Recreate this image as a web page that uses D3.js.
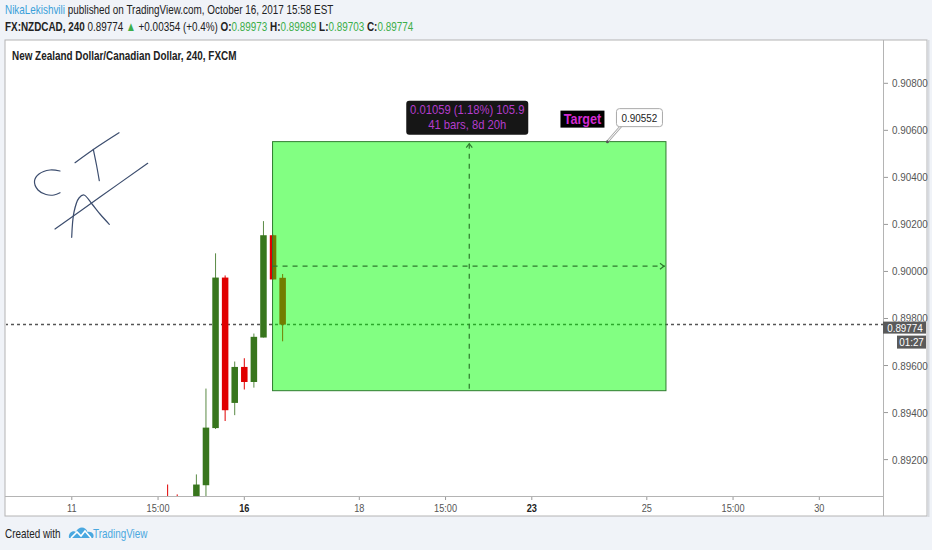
<!DOCTYPE html>
<html>
<head>
<meta charset="utf-8">
<script src="https://cdn.jsdelivr.net/npm/d3@7"></script>
<style>
  html, body { margin: 0; padding: 0; background: #f0f3f8; }
  svg { display: block; }
  text { font-family: "Liberation Sans", Arial, sans-serif; }
</style>
</head>
<body>
<svg id="chart" width="932" height="550"></svg>
<script>
// 4-hour NZD/CAD candles, indexed by bar (0 = first bar of the 16th)
const barIndex = [-8, -7, -5, -4, -3, -2, -1, 0, 1, 2, 3, 4];
const opens  = [0.89040, 0.89030, 0.89020, 0.89091, 0.89334, 0.89974, 0.89441, 0.89594, 0.89530, 0.89719, 0.90154, 0.89973];
const highs  = [0.89094, 0.89052, 0.89137, 0.89502, 0.90077, 0.89983, 0.89617, 0.89631, 0.89736, 0.90214, 0.90156, 0.89989];
const lows   = [0.88980, 0.88990, 0.88990, 0.89040, 0.89330, 0.89364, 0.89389, 0.89498, 0.89506, 0.89719, 0.89966, 0.89703];
const closes = [0.88990, 0.89020, 0.89094, 0.89336, 0.89974, 0.89410, 0.89594, 0.89530, 0.89722, 0.90154, 0.89966, 0.89774];

// price axis ticks
const priceTicks = [0.908, 0.906, 0.904, 0.902, 0.900, 0.898, 0.896, 0.894, 0.892];

// time axis ticks (bar positions and labels)
const timeTickBars = [-18, -9, 0, 12, 21, 30, 42, 51, 60];
const timeTickLabels = ["11", "15:00", "16", "18", "15:00", "23", "25", "15:00", "30"];
const timeTickBold = [false, false, true, false, false, true, false, false, false];

// long position / price range projection
const projStartBar = 3, projEndBar = 44;
const projTop = 0.90552, projBottom = 0.89493;
const lastPrice = 0.89774;
const rangeLine1 = "0.01059 (1.18%) 105.9";
const rangeLine2 = "41 bars, 8d 20h";
const targetBar = 38;

const svg = d3.select("#chart");

// narrow-looking text: a horizontally squeezed group anchored at (x, y)
function squeezed(parent, x, y, sx) {
  return parent.append("g").attr("transform", `translate(${x},${y}) scale(${sx},1)`)
    .append("text").attr("x", 0).attr("y", 0);
}

// frame geometry
const frame = { left: 5, top: 40, right: 927, bottom: 516 };
const plot = { left: 5, top: 40, right: 883, bottom: 496 };

const x = d3.scaleLinear().domain([0, 12]).range([244.3, 359.3]);
const y = d3.scaleLinear().domain([0.892, 0.908]).range([459.6, 83.3]);
const barStep = x(1) - x(0);

const UP = "#38761d", DOWN = "#e00000";
const HS = 0.74;   // header squeeze
const AS = 0.86;   // axis label squeeze

// header
const h1 = squeezed(svg, 5, 14, HS).attr("font-size", 13.4).attr("fill", "#222");
h1.append("tspan").attr("fill", "#3a9fd9").text("NikaLekishvili");
h1.append("tspan").text(" published on TradingView.com, October 16, 2017 15:58 EST");

const h2 = squeezed(svg, 5, 31, HS).attr("font-size", 13.4).attr("fill", "#222");
h2.append("tspan").attr("font-weight", "bold").text("FX:NZDCAD, 240");
h2.append("tspan").text("  0.89774 ");
h2.append("tspan").attr("fill", "#3cae4a").text("\u25B2");
h2.append("tspan").text(" +0.00354 (+0.4%) ");
const ohlc = [["O:", "0.89973"], ["H:", "0.89989"], ["L:", "0.89703"], ["C:", "0.89774"]];
ohlc.forEach(([k, v], i) => {
  h2.append("tspan").attr("font-weight", "bold").text((i ? " " : "") + k);
  h2.append("tspan").attr("fill", "#3cae4a").text(v);
});

// chart frame
svg.append("rect").attr("x", frame.left).attr("y", frame.top)
  .attr("width", frame.right - frame.left).attr("height", frame.bottom - frame.top)
  .attr("fill", "#fff").attr("stroke", "#b4b4b4").attr("stroke-width", 1);
svg.append("line").attr("x1", frame.right + 1.5).attr("x2", frame.right + 1.5)
  .attr("y1", frame.top).attr("y2", frame.bottom + 1).attr("stroke", "#d8dbe0").attr("stroke-width", 2);
svg.append("line").attr("x1", plot.right + 0.5).attr("x2", plot.right + 0.5)
  .attr("y1", frame.top).attr("y2", frame.bottom).attr("stroke", "#b4b4b4");
svg.append("line").attr("x1", frame.left).attr("x2", plot.right)
  .attr("y1", plot.bottom + 0.5).attr("y2", plot.bottom + 0.5).attr("stroke", "#b4b4b4");

const defs = svg.append("defs");
defs.append("clipPath").attr("id", "plotClip")
  .append("rect").attr("x", plot.left + 1).attr("y", plot.top + 1)
  .attr("width", plot.right - plot.left - 1).attr("height", plot.bottom - plot.top - 1);

// symbol title
squeezed(svg, 12, 60, HS).attr("font-size", 13.4)
  .attr("font-weight", "bold").attr("fill", "#222")
  .text("New Zealand Dollar/Canadian Dollar, 240, FXCM");

const g = svg.append("g").attr("clip-path", "url(#plotClip)");

// last price line
g.append("line").attr("x1", plot.left).attr("x2", plot.right)
  .attr("y1", y(lastPrice)).attr("y2", y(lastPrice))
  .attr("stroke", "#555").attr("stroke-width", 1.5).attr("stroke-dasharray", "3,3");

// candles
const candles = barIndex.map((b, i) => ({ b, o: opens[i], h: highs[i], l: lows[i], c: closes[i] }));
const cg = g.selectAll("g.candle").data(candles).join("g").attr("class", "candle");
cg.append("line")
  .attr("x1", d => x(d.b)).attr("x2", d => x(d.b))
  .attr("y1", d => y(d.h)).attr("y2", d => y(d.l))
  .attr("stroke", d => d.c >= d.o ? "#5a8a45" : DOWN).attr("stroke-width", 1);
const bodyW = barStep * 0.68;
cg.append("rect")
  .attr("x", d => x(d.b) - bodyW / 2).attr("width", bodyW)
  .attr("y", d => y(Math.max(d.o, d.c)))
  .attr("height", d => Math.max(1, Math.abs(y(d.o) - y(d.c))))
  .attr("fill", d => d.c >= d.o ? UP : DOWN);

// projection box
const bx0 = x(projStartBar) - 0.5, bx1 = x(projEndBar);
const by0 = y(projTop), by1 = y(projBottom);
g.append("rect").attr("x", bx0).attr("y", by0).attr("width", bx1 - bx0).attr("height", by1 - by0)
  .attr("fill", "rgba(0,255,0,0.49)").attr("stroke", "#2f7d2f").attr("stroke-width", 1);

const midX = (bx0 + bx1) / 2;
const midY = y((projTop + projBottom) / 2);
g.append("line").attr("x1", midX).attr("x2", midX).attr("y1", by0 + 2).attr("y2", by1)
  .attr("stroke", "#2e7a2e").attr("stroke-width", 1.2).attr("stroke-dasharray", "5,5");
g.append("line").attr("x1", bx0).attr("x2", bx1 - 1).attr("y1", midY).attr("y2", midY)
  .attr("stroke", "#2e7a2e").attr("stroke-width", 1.2).attr("stroke-dasharray", "5,5");
// arrow heads
g.append("path").attr("d", `M${midX - 3},${by0 + 6}L${midX},${by0 + 2}L${midX + 3},${by0 + 6}`)
  .attr("fill", "none").attr("stroke", "#2e7a2e").attr("stroke-width", 1.2);
g.append("path").attr("d", `M${bx1 - 6},${midY - 3}L${bx1 - 2},${midY}L${bx1 - 6},${midY + 3}`)
  .attr("fill", "none").attr("stroke", "#2e7a2e").attr("stroke-width", 1.2);

// range label
const lblW = 122, lblH = 34;
svg.append("rect").attr("x", midX - lblW / 2 - 2).attr("y", by0 - 41).attr("width", lblW).attr("height", lblH)
  .attr("rx", 3).attr("fill", "#161616");
squeezed(svg, midX - 2, by0 - 28, 0.9).attr("text-anchor", "middle")
  .attr("font-size", 12.5).attr("fill", "#b43ccc").text(rangeLine1);
squeezed(svg, midX - 2, by0 - 13, 0.9).attr("text-anchor", "middle")
  .attr("font-size", 12.5).attr("fill", "#b43ccc").text(rangeLine2);

// target callout
const tx = x(targetBar) - 1, ty = y(projTop);
svg.append("rect").attr("x", tx - 47).attr("y", ty - 31).attr("width", 44).attr("height", 17).attr("fill", "#000");
squeezed(svg, tx - 25, ty - 18, 0.9).attr("text-anchor", "middle")
  .attr("font-size", 14).attr("font-weight", "bold").attr("fill", "#d22ad2").text("Target");
svg.append("path").attr("d", `M${tx},${ty}L${tx + 14},${ty - 16}`).attr("stroke", "#aaa").attr("stroke-width", 2.5);
svg.append("path").attr("d", `M${tx},${ty}L${tx + 14},${ty - 16}`).attr("stroke", "#fff").attr("stroke-width", 1);
svg.append("rect").attr("x", tx + 9).attr("y", ty - 33).attr("width", 46).attr("height", 18).attr("rx", 3)
  .attr("fill", "#fff").attr("stroke", "#aaa");
squeezed(svg, tx + 32, ty - 20, 0.9).attr("text-anchor", "middle")
  .attr("font-size", 11).attr("fill", "#222").text(d3.format(".5f")(projTop));
svg.append("circle").attr("cx", tx).attr("cy", ty).attr("r", 1.5).attr("fill", "#555");

// handwritten "CTA"
const ink = svg.append("g").attr("fill", "none").attr("stroke", "#3c4d6e").attr("stroke-width", 1.2)
  .attr("stroke-linecap", "round");
const curve = d3.line().curve(d3.curveCatmullRom);
ink.append("path").attr("d", curve([[60, 171], [50, 170], [39, 174], [34.5, 181], [38, 190], [46, 194.5], [54, 195], [60, 192.7]]));
ink.append("path").attr("d", curve([[75, 162.7], [97, 147], [119, 132.7]]));
ink.append("path").attr("d", curve([[93.3, 149.3], [96.5, 165], [99.3, 180.7]]));
ink.append("path").attr("d", curve([[55, 229], [100, 197], [147.7, 163.3]]));
ink.append("path").attr("d", curve([[71.7, 237.3], [74, 212], [79, 198], [84, 195], [92, 204], [100, 214], [109.3, 224.3]]));

// price axis
const pa = svg.append("g");
const ly = y(lastPrice);
defs.append("clipPath").attr("id", "aboveBadge")
  .append("rect").attr("x", plot.right).attr("y", 0).attr("width", 50).attr("height", ly - 3);
priceTicks.forEach(p => {
  pa.append("line").attr("x1", plot.right + 1).attr("x2", plot.right + 5)
    .attr("y1", y(p)).attr("y2", y(p)).attr("stroke", "#999");
  // a label sitting under the last-price badge only shows above it
  const host = Math.abs(y(p) - ly) < 14 ? pa.append("g").attr("clip-path", "url(#aboveBadge)") : pa;
  squeezed(host, plot.right + 9, y(p) + 4, AS).attr("font-size", 11.5)
    .attr("fill", "#555").text(d3.format(".5f")(p));
});
// last price badge
pa.append("line").attr("x1", plot.right + 1).attr("x2", plot.right + 5).attr("y1", ly).attr("y2", ly).attr("stroke", "#555");
pa.append("rect").attr("x", plot.right).attr("y", ly - 3).attr("width", 43).attr("height", 12).attr("fill", "#5a5a5a");
squeezed(pa, plot.right + 22, ly + 7.5, AS).attr("text-anchor", "middle").attr("font-size", 11.5)
  .attr("fill", "#fff").text(d3.format(".5f")(lastPrice));
pa.append("rect").attr("x", plot.right + 14).attr("y", ly + 11).attr("width", 29).attr("height", 13).attr("fill", "#5a5a5a");
squeezed(pa, plot.right + 28.5, ly + 21.5, AS).attr("text-anchor", "middle").attr("font-size", 11.5)
  .attr("fill", "#fff").text("01:27");

// time axis
const ta = svg.append("g");
timeTickBars.forEach((b, i) => {
  ta.append("line").attr("x1", x(b)).attr("x2", x(b)).attr("y1", plot.bottom + 1).attr("y2", plot.bottom + 4).attr("stroke", "#999");
  squeezed(ta, x(b), plot.bottom + 16, 0.8).attr("text-anchor", "middle")
    .attr("font-size", 11.5).attr("font-weight", timeTickBold[i] ? "bold" : "normal")
    .attr("fill", timeTickBold[i] ? "#222" : "#555").text(timeTickLabels[i]);
});

// footer
squeezed(svg, 5, 538, HS).attr("font-size", 13.4).attr("fill", "#222").text("Created with");
const logo = svg.append("g").attr("transform", "translate(69,526)");
logo.append("path").attr("d", "M0,12 C-1,7 4,4 7,6 C9,0 17,0 18.5,6 C23,5 26,9 24,12 Z").attr("fill", "#4aa8e0");
logo.append("path").attr("d", "M2,12 L8,6 L12,10 L16,5 L22,12").attr("fill", "none").attr("stroke", "#fff").attr("stroke-width", 1.6);
squeezed(svg, 93, 538, HS).attr("font-size", 13.4).attr("fill", "#4aa8e0").text("TradingView");
</script>
</body>
</html>
